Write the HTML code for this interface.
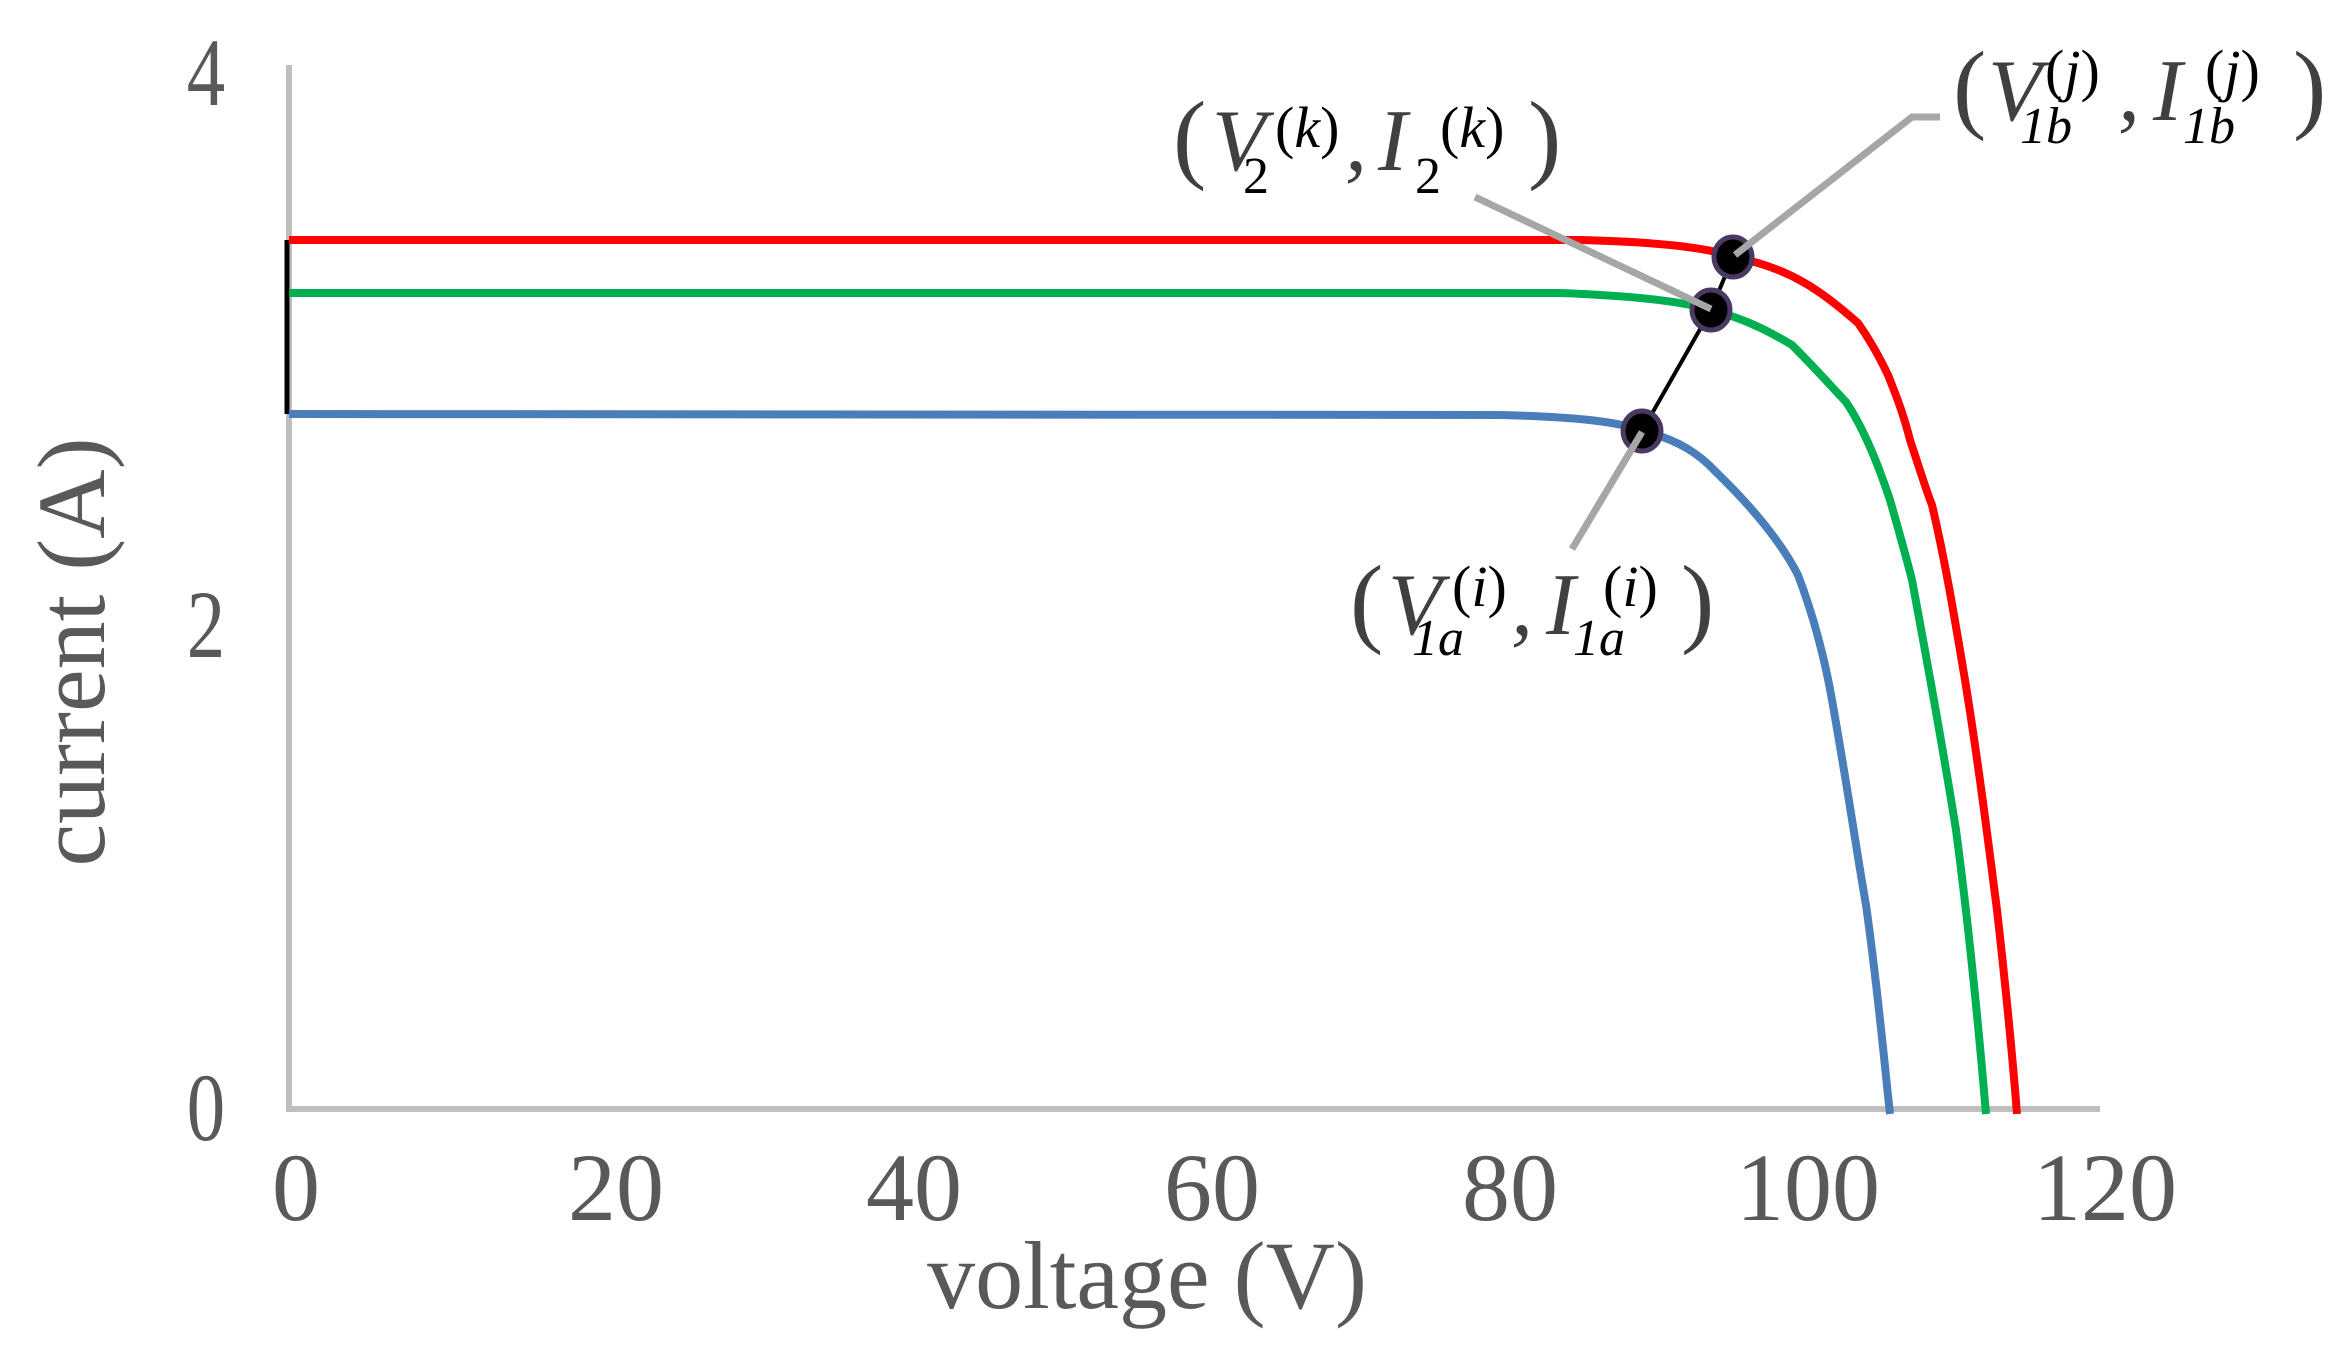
<!DOCTYPE html>
<html><head><meta charset="utf-8"><style>
html,body{margin:0;padding:0;background:#fff;}
svg{display:block;}
text{font-family:"Liberation Serif",serif;}
.t{fill:#595959;font-size:96px;}
.m{fill:#404040;font-size:88px;font-style:italic;}
.p{fill:#404040;font-size:100px;}
.s{fill:#000;font-size:52px;font-style:italic;}
.u{fill:#000;font-size:58px;font-style:italic;}
.n{font-style:normal;}
</style></head><body>
<svg width="2348" height="1349" viewBox="0 0 2348 1349" xmlns="http://www.w3.org/2000/svg">
<rect width="2348" height="1349" fill="#fff"/>
<line x1="289" y1="65" x2="289" y2="1111" stroke="#bfbfbf" stroke-width="6"/>
<line x1="286" y1="1109" x2="2100" y2="1109" stroke="#bfbfbf" stroke-width="6"/>
<line x1="287" y1="240" x2="287" y2="414" stroke="#000" stroke-width="5"/>
<g fill="none" stroke-width="8" stroke-linejoin="round">
<path stroke="#4a7ebb" d="M289,414 L1500,415 C1580,417 1620,422 1642,431 C1680,440 1700,455 1716,472 C1750,505 1780,540 1798,575 C1815,620 1825,660 1832,700 C1848,790 1858,860 1866,905 C1878,990 1884,1060 1890,1114"/>
<path stroke="#00b050" d="M289,293 L1560,293 C1640,296 1685,302 1711,310 C1750,320 1775,335 1792,345 C1815,368 1830,385 1846,402 C1865,430 1880,470 1890,500 C1900,535 1907,560 1912,580 C1925,650 1940,730 1956,830 C1968,920 1978,1020 1986,1114"/>
<path stroke="#ff0000" d="M289,240 L1580,240 C1660,242 1710,248 1733,257 C1790,268 1820,290 1858,323 C1870,340 1880,358 1888,375 C1900,405 1905,420 1910,440 C1920,470 1926,490 1932,505 C1945,560 1955,620 1965,680 C1978,760 1988,840 1997,910 C2006,990 2012,1050 2017,1114"/>
</g>
<polyline points="1642,431 1711,310 1733,257" fill="none" stroke="#000" stroke-width="4"/>
<g fill="#000" stroke="#4a3a63" stroke-width="5">
<ellipse cx="1733" cy="257" rx="19" ry="20"/>
<ellipse cx="1711" cy="310" rx="19" ry="20"/>
<ellipse cx="1642" cy="431" rx="19" ry="20"/>
</g>
<g stroke="#a6a6a6" stroke-width="7" fill="none">
<polyline points="1735,255 1912,117 1940,117"/>
<line x1="1711" y1="309" x2="1475" y2="197"/>
<line x1="1642" y1="432" x2="1572" y2="549"/>
</g>
<g class="t" text-anchor="middle">
<text x="206" y="105" transform="translate(206 0) scale(0.8 1) translate(-206 0)">4</text>
<text x="206" y="657" transform="translate(206 0) scale(0.8 1) translate(-206 0)">2</text>
<text x="206" y="1140" transform="translate(206 0) scale(0.8 1) translate(-206 0)">0</text>
</g>
<g class="t" text-anchor="middle">
<text x="296" y="1220">0</text>
<text x="616" y="1220">20</text>
<text x="914" y="1220">40</text>
<text x="1212" y="1220">60</text>
<text x="1510" y="1220">80</text>
<text x="1808" y="1220">100</text>
<text x="2105" y="1220">120</text>
</g>
<text class="t" x="1147" y="1308" text-anchor="middle">voltage (V)</text>
<text class="t" x="0" y="0" text-anchor="middle" transform="translate(104 652) rotate(-90)">current (A)</text>
<!-- k label -->
<text class="p" x="1173" y="170">(</text>
<text class="m" x="1212" y="170">V</text>
<text class="s n" x="1243" y="193">2</text>
<text class="u" x="1275" y="147"><tspan class="n">(</tspan>k<tspan class="n">)</tspan></text>
<text class="m" x="1345" y="170">,</text>
<text class="m" x="1378" y="170">I</text>
<text class="s n" x="1415" y="193">2</text>
<text class="u" x="1440" y="147"><tspan class="n">(</tspan>k<tspan class="n">)</tspan></text>
<text class="p" x="1528" y="170">)</text>
<!-- j label -->
<text class="p" x="1953" y="120">(</text>
<text class="m" x="1988" y="120">V</text>
<text class="s" x="2020" y="143">1b</text>
<text class="u" x="2045" y="90"><tspan class="n">(</tspan>j<tspan class="n">)</tspan></text>
<text class="m" x="2118" y="120">,</text>
<text class="m" x="2153" y="120">I</text>
<text class="s" x="2183" y="143">1b</text>
<text class="u" x="2205" y="90"><tspan class="n">(</tspan>j<tspan class="n">)</tspan></text>
<text class="p" x="2293" y="120">)</text>
<!-- i label -->
<text class="p" x="1350" y="634">(</text>
<text class="m" x="1388" y="634">V</text>
<text class="s" x="1412" y="655">1a</text>
<text class="u" x="1452" y="606"><tspan class="n">(</tspan>i<tspan class="n">)</tspan></text>
<text class="m" x="1511" y="634">,</text>
<text class="m" x="1546" y="634">I</text>
<text class="s" x="1573" y="655">1a</text>
<text class="u" x="1603" y="606"><tspan class="n">(</tspan>i<tspan class="n">)</tspan></text>
<text class="p" x="1681" y="634">)</text>
</svg>
</body></html>
